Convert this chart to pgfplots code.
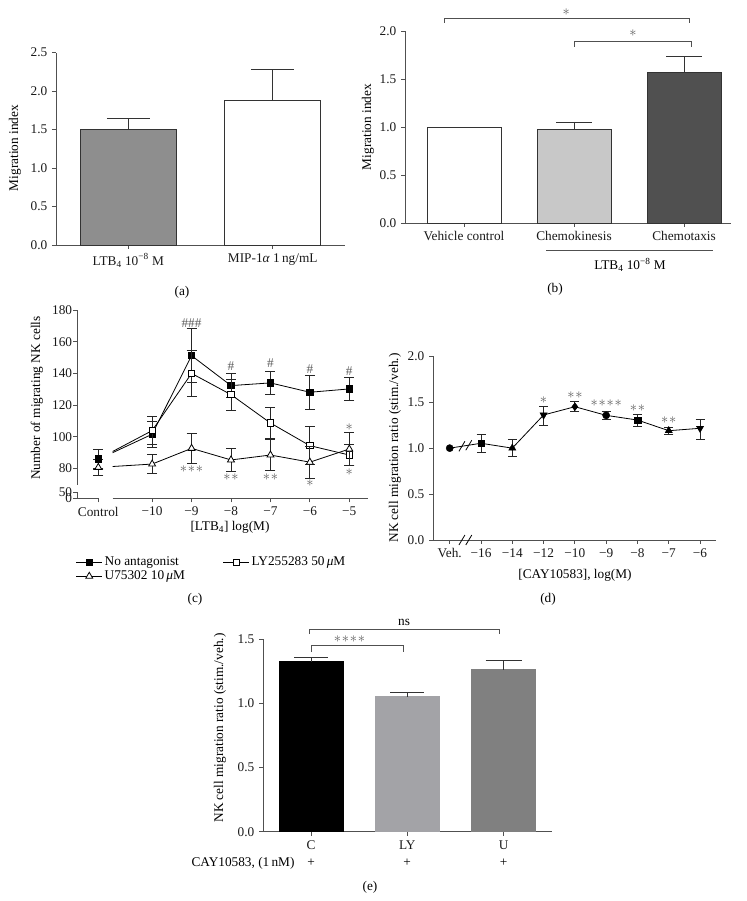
\documentclass[border=0pt]{standalone}
\usepackage{fontspec}
\setmainfont{Liberation Serif}
\usepackage{pgfplots}
\pgfplotsset{compat=1.18}
\definecolor{axc}{HTML}{505050}
\definecolor{edge}{HTML}{333333}
\definecolor{astc}{HTML}{5E5E5E}
\definecolor{barA}{HTML}{8E8E8E}
\definecolor{barB}{HTML}{C8C8C8}
\definecolor{barC}{HTML}{505050}
\definecolor{eLY}{HTML}{A3A3A7}
\definecolor{eU}{HTML}{808080}
\newcommand{\fs}{\fontsize{13.3}{15}\selectfont}
\newcommand{\starA}{${\ast}$}
\newcommand{\starB}{${\ast}\mkern1mu{\ast}$}
\newcommand{\starC}{${\ast}\mkern1mu{\ast}\mkern1mu{\ast}$}
\newcommand{\starD}{${\ast}\mkern1mu{\ast}\mkern1mu{\ast}\mkern1mu{\ast}$}
\pgfplotsset{
  base/.style={scale only axis, axis lines*=left, axis line style={axc, line width=0.9pt},
    tick style={axc, line width=0.9pt}, tick align=outside, major tick length=4pt,
    clip=false, anchor=south west, tick label style={text=black!90}},
  eb/.style={error bars/.cd, y dir=plus, y explicit,
    error bar style={edge, line width=0.9pt},
    error mark options={rotate=90, edge, line width=0.9pt, mark size=#1}},
  ebs/.style={error bars/.cd, y dir=both, y explicit,
    error bar style={black!85, line width=0.8pt},
    error mark options={rotate=90, black!85, line width=0.8pt, mark size=#1}},
}
\begin{document}
\fs
\begin{tikzpicture}
\path[use as bounding box] (0pt,0pt) rectangle (746pt,901pt);

% ---------------- (a)
\begin{axis}[base, at={(56pt,656pt)}, width=289pt, height=192.3pt,
  xmin=-0.5, xmax=1.5, ymin=0, ymax=2.5,
  xtick={0,1}, xticklabels={LTB\textsubscript{4} 10\textsuperscript{−8} M, MIP-1\textit{α} 1\,ng/mL},
  ytick={0,0.5,1,1.5,2,2.5}, yticklabels={0.0,0.5,1.0,1.5,2.0,2.5},
  bar width=96pt]
\addplot[ybar, fill=barA, draw=edge, line width=0.9pt, eb=21.5pt] coordinates {(0,1.50) +- (0,0.14)};
\addplot[ybar, fill=white, draw=edge, line width=0.9pt, eb=21.5pt] coordinates {(1,1.88) +- (0,0.405)};
\end{axis}

% ---------------- (b)
\begin{axis}[base, at={(405pt,678pt)}, width=326pt, height=192pt,
  xmin=-0.536, xmax=2.427, ymin=0, ymax=2,
  xtick={0,1,2}, xticklabels={Vehicle control, Chemokinesis, Chemotaxis},
  ytick={0,0.5,1,1.5,2}, yticklabels={0.0,0.5,1.0,1.5,2.0},
  bar width=74pt]
\addplot[ybar, fill=white, draw=edge, line width=0.9pt] coordinates {(0,1.0)};
\addplot[ybar, fill=barB, draw=edge, line width=0.9pt, eb=18pt] coordinates {(1,0.976) +- (0,0.076)};
\addplot[ybar, fill=barC, draw=edge, line width=0.9pt, eb=18pt] coordinates {(2,1.573) +- (0,0.159)};
\draw[axc, line width=0.9pt] (axis cs:-0.18,2.086) |- (axis cs:2.045,2.132) -- (axis cs:2.045,2.086);
\draw[axc, line width=0.9pt] (axis cs:1.0,1.836) |- (axis cs:2.07,1.889) -- (axis cs:2.07,1.836);
\node[astc] at (axis cs:0.93,2.2) {\starA};
\node[astc] at (axis cs:1.536,1.98) {\starA};
\end{axis}
\draw[axc, line width=0.9pt] (546pt,650.3pt) -- (713pt,650.3pt);
\node at (630pt,636pt) {LTB\textsubscript{4} 10\textsuperscript{−8} M};

% ---------------- (c) left part (control)
\begin{axis}[base, at={(77.3pt,402.7pt)}, width=21pt, height=188.3pt,
  xmin=0, xmax=1, ymin=61.2, ymax=180,
  xtick={1}, xticklabels={Control},
  ytick={61.2,65,80,100,120,140,160,180}, yticklabels={0,50,80,100,120,140,160,180},
  y axis line style={draw=none},
  yticklabel style={inner sep=1pt}]
\draw[axc, line width=0.9pt] (axis cs:0,69.6) -- (axis cs:0,180);
\draw[axc, line width=0.9pt] (axis cs:0,61.2) -- (axis cs:0,65);
\addplot[only marks, mark=square*, mark size=3.2pt, mark options={fill=white, draw=black, line width=0.8pt}, ebs=5pt] coordinates {(1,86) +- (0,6)};
\addplot[only marks, mark=square*, mark size=3.2pt, mark options={fill=black, draw=black}, ebs=5pt] coordinates {(1,85.8) +- (0,6.5)};
\addplot[only marks, mark=triangle*, mark size=4pt, mark options={fill=white, draw=black, line width=0.8pt}, ebs=5pt] coordinates {(1,80.7) +- (0,5.2)};
\end{axis}

% ---------------- (c) main part
\begin{axis}[base, at={(112.7pt,402.7pt)}, width=255.3pt, height=188.3pt,
  xmin=-11, xmax=-4.526, ymin=61.2, ymax=180,
  axis y line=none, clip=true, clip mode=individual,
  xtick={-10,-9,-8,-7,-6,-5}, xticklabels={−10,−9,−8,−7,−6,−5},
  legend columns=2, legend cell align=left,
  legend style={draw=none, fill=none, at={(axis description cs:-0.145,-0.30)}, anchor=north west,
    inner sep=0pt, row sep=-1pt, /tikz/every even column/.append style={column sep=36pt}},
  legend image code/.code={\draw[mark repeat=2,mark phase=2,#1] plot coordinates {(0pt,0pt) (13pt,0pt) (26pt,0pt)};}]
\addplot[black, line width=0.8pt, forget plot] coordinates {(-11.361,85.8) (-10,101.6)};
\addplot[black, line width=0.8pt, forget plot] coordinates {(-11.361,86) (-10,103.9)};
\addplot[black, line width=0.8pt, forget plot] coordinates {(-11.361,80.7) (-10,82.8)};
\addplot[black, line width=0.8pt, mark=square*, mark size=3.2pt, mark options={fill=black}, ebs=5pt] coordinates {
  (-10,101.6) +- (0,8) (-9,151.2) +- (0,17) (-8,132.3) +- (0,7.7)
  (-7,134.0) +- (0,7.5) (-6,128.1) +- (0,10.6) (-5,130.2) +- (0,7.2)};
\addlegendentry{No antagonist}
\addplot[black, line width=0.8pt, mark=square*, mark size=3.2pt, mark options={fill=white}, ebs=5pt] coordinates {
  (-10,103.9) +- (0,9) (-9,140.0) +- (0,14.3) (-8,126.6) +- (0,9.8)
  (-7,108.7) +- (0,9.8) (-6,94.4) +- (0,12) (-5,88.5) +- (0,6.5)};
\addlegendentry{LY255283 50\,\textit{μ}M}
\addplot[black, line width=0.8pt, mark=triangle*, mark size=4pt, mark options={fill=white}, ebs=5pt] coordinates {
  (-10,82.8) +- (0,5.8) (-9,92.7) +- (0,9.3) (-8,85.4) +- (0,7.5)
  (-7,88.5) +- (0,10) (-6,84.0) +- (0,10.2) (-5,92.3) +- (0,10.3)};
\addlegendentry{U75302 10\,\textit{μ}M}
\node[astc] at (axis cs:-9,172) {\#\#\#};
\node[astc] at (axis cs:-8,144.7) {\#};
\node[astc] at (axis cs:-7,146.4) {\#};
\node[astc] at (axis cs:-6,142.8) {\#};
\node[astc] at (axis cs:-5,141.7) {\#};
\node[astc] at (axis cs:-9,79.7) {\starC};
\node[astc] at (axis cs:-8,74.4) {\starB};
\node[astc] at (axis cs:-7,74.4) {\starB};
\node[astc] at (axis cs:-6,70.7) {\starA};
\node[astc] at (axis cs:-5,106.4) {\starA};
\node[astc] at (axis cs:-5,78) {\starA};
\end{axis}
\node at (230pt,374pt) {[LTB\textsubscript{4}] log(M)};

% ---------------- (d)
\begin{axis}[base, at={(433pt,361pt)}, width=283pt, height=183.7pt,
  xmin=-0.534, xmax=8.51, ymin=0, ymax=2,
  xtick={0,1,2,3,4,5,6,7,8}, xticklabels={Veh.,−16,−14,−12,−10,−9,−8,−7,−6},
  ytick={0,0.5,1,1.5,2}, yticklabels={0.0,0.5,1.0,1.5,2.0}]
\addplot[black, line width=0.8pt, forget plot] coordinates {(0,1.0) (1,1.053) (2,1.0) (3,1.361) (4,1.451) (5,1.357) (6,1.306) (7,1.19) (8,1.216)};
\addplot[only marks, mark=none, forget plot, ebs=4.5pt] coordinates {
  (1,1.053) += (0,0.101) -= (0,0.098)
  (2,1.0) += (0,0.096) -= (0,0.093)
  (3,1.361) += (0,0.090) -= (0,0.109)
  (4,1.451) += (0,0.055) -= (0,0.050)
  (5,1.357) += (0,0.040) -= (0,0.043)
  (6,1.306) += (0,0.058) -= (0,0.065)
  (7,1.19) += (0,0.040) -= (0,0.040)
  (8,1.216) += (0,0.098) -= (0,0.120)};
\addplot[only marks, mark=*, mark size=3.6pt, black] coordinates {(0,1.0) (5,1.357)};
\addplot[only marks, mark=square*, mark size=3.3pt, black] coordinates {(1,1.053) (6,1.306)};
\addplot[only marks, mark=triangle*, mark size=4.2pt, black] coordinates {(2,1.0) (7,1.19)};
\addplot[only marks, mark=triangle*, mark size=4.2pt, mark options={rotate=180}, black] coordinates {(3,1.361) (8,1.216)};
\addplot[only marks, mark=diamond*, mark size=4pt, black] coordinates {(4,1.451)};
\draw[black, line width=0.8pt] ([xshift=-3pt,yshift=-5pt]axis cs:0.39,1.02) -- ([xshift=3pt,yshift=5pt]axis cs:0.39,1.02);
\draw[black, line width=0.8pt] ([xshift=-3pt,yshift=-5pt]axis cs:0.61,1.032) -- ([xshift=3pt,yshift=5pt]axis cs:0.61,1.032);
\draw[black, line width=0.8pt] ([xshift=-3pt,yshift=-5pt]axis cs:0.39,0) -- ([xshift=3pt,yshift=5pt]axis cs:0.39,0);
\draw[black, line width=0.8pt] ([xshift=-3pt,yshift=-5pt]axis cs:0.61,0) -- ([xshift=3pt,yshift=5pt]axis cs:0.61,0);
\node[astc] at (axis cs:3,1.524) {\starA};
\node[astc] at (axis cs:4,1.578) {\starB};
\node[astc] at (axis cs:5,1.488) {\starD};
\node[astc] at (axis cs:6,1.434) {\starB};
\node[astc] at (axis cs:7,1.306) {\starB};
\end{axis}
\node at (575pt,326pt) {[CAY10583], log(M)};

% ---------------- (e)
\begin{axis}[base, at={(263pt,69.3pt)}, width=288.7pt, height=192.4pt,
  xmin=-0.5, xmax=2.5, ymin=0, ymax=1.5,
  xtick={0,1,2}, xticklabels={C,LY,U},
  ytick={0,0.5,1,1.5}, yticklabels={0.0,0.5,1.0,1.5},
  bar width=64pt]
\addplot[ybar, fill=black, draw=black, eb=17pt] coordinates {(0,1.326) +- (0,0.034)};
\addplot[ybar, fill=eLY, draw=eLY, eb=17pt] coordinates {(1,1.053) +- (0,0.031)};
\addplot[ybar, fill=eU, draw=eU, eb=18pt] coordinates {(2,1.263) +- (0,0.073)};
\draw[axc, line width=0.9pt] (axis cs:-0.02,1.541) |- (axis cs:1.953,1.580) -- (axis cs:1.953,1.541);
\draw[axc, line width=0.9pt] (axis cs:0,1.401) |- (axis cs:0.956,1.450) -- (axis cs:0.956,1.401);
\node at (axis cs:0.966,1.635) {ns};
\node[astc] at (axis cs:0.398,1.503) {\starD};
\end{axis}
\node at (243pt,38pt) {CAY10583, (1\,nM)};
\node at (311pt,38pt) {+};
\node at (407pt,38pt) {+};
\node at (503.5pt,38pt) {+};

% ---------------- axis labels and captions
\node[rotate=90] at (15pt,753pt) {Migration index};
\node[rotate=90] at (368pt,774pt) {Migration index};
\node[rotate=90] at (37pt,503pt) {Number of migrating NK cells};
\node[rotate=90] at (395pt,453pt) {NK cell migration ratio (stim./veh.)};
\node[rotate=90] at (220pt,173pt) {NK cell migration ratio (stim./veh.)};
\node at (182pt,609pt) {(a)};
\node at (555pt,612pt) {(b)};
\node at (195pt,302pt) {(c)};
\node at (548pt,302pt) {(d)};
\node at (370pt,14pt) {(e)};
\end{tikzpicture}
\end{document}
